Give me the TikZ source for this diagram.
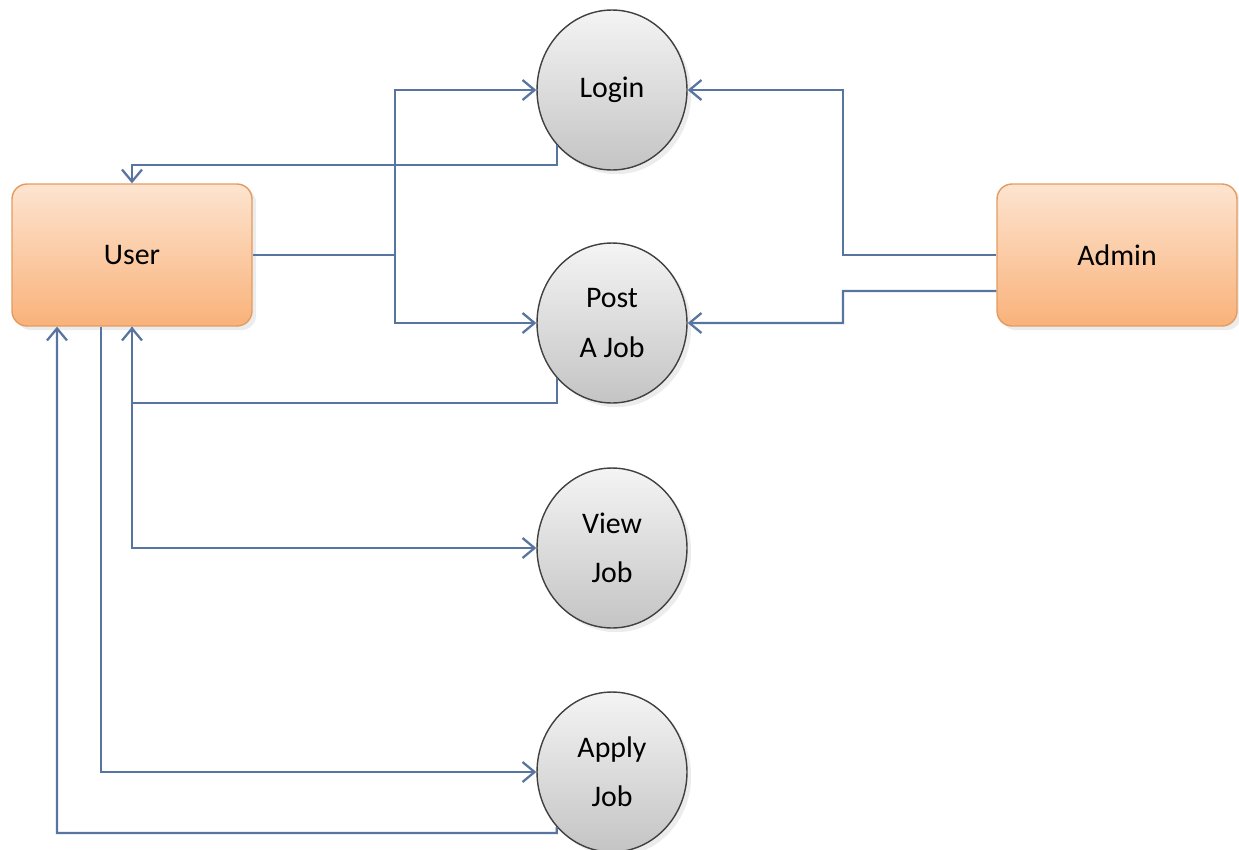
\documentclass[tikz,border=0pt]{standalone}
\usepackage{fontspec}
\setmainfont{Carlito}
\usetikzlibrary{shapes.geometric,arrows.meta,shadows}

\definecolor{linkblue}{RGB}{88,116,160}
\definecolor{boxtop}{RGB}{253,228,208}
\definecolor{boxbottom}{RGB}{249,178,122}
\definecolor{boxedge}{RGB}{226,156,96}
\definecolor{proctop}{RGB}{244,244,244}
\definecolor{procbottom}{RGB}{196,196,196}

\tikzset{
    actor/.style={
        draw=boxedge, thick, rounded corners=0.3cm,
        top color=boxtop, bottom color=boxbottom,
        minimum width=4.8cm, minimum height=2.84cm,
        drop shadow={opacity=0.15}
    },
    process/.style={
        ellipse, draw=black!75, thick,
        top color=proctop, bottom color=procbottom,
        minimum width=3cm, minimum height=3.2cm,
        align=center, inner sep=0pt,
        drop shadow={opacity=0.15}
    },
    flowline/.style={linkblue, line width=1.3pt},
    flow/.style={flowline, -{Straight Barb[length=0.24cm,width=0.4cm]}}
}

\begin{document}
\begin{tikzpicture}[x=0.02cm, y=-0.02cm, font=\fontsize{17}{28}\selectfont]
    \useasboundingbox (0,0) rectangle (1239,849);

    % Actors
    \node[actor] (user)  at (132,255)  {User};
    \node[actor] (admin) at (1117,255) {Admin};

    % Processes
    \node[process] (login) at (612,90)  {Login};
    \node[process] (post)  at (612,323) {Post\\A Job};
    \node[process] (view)  at (612,548) {View\\Job};
    \node[process] (apply) at (612,772) {Apply\\Job};

    % junction points
    \coordinate (split)   at (395,255);
    \coordinate (ajoin)   at (843,255);
    \coordinate (ajointwo) at (843,291);
    \coordinate (loginback) at (132,165);
    \coordinate (postback)  at (132,403);
    \coordinate (applyback) at (57,833);

    % User to Login and Post A Job
    \draw[flowline] (user.east) -- (split);
    \draw[flow] (split) |- (login.west);
    \draw[flow] (split) |- (post.west);

    % back to User
    \draw[flow] (login.225) |- (loginback) -- (user.north);
    \draw[flow] (post.225) |- (postback) -- (user.south);

    % User to View Job and Apply Job
    \draw[flow] (user.south) |- (view.west);
    \draw[flow] ([xshift=-0.62cm]user.south) |- (apply.west);
    \draw[flow] (apply.225) |- (applyback) -- ([xshift=-1.5cm]user.south);

    % Admin
    \draw[flow] (admin.west) -- (ajoin) |- (login.east);
    \draw[flow] ([yshift=-0.72cm]admin.west) -- (ajointwo) |- (post.east);
\end{tikzpicture}
\end{document}
